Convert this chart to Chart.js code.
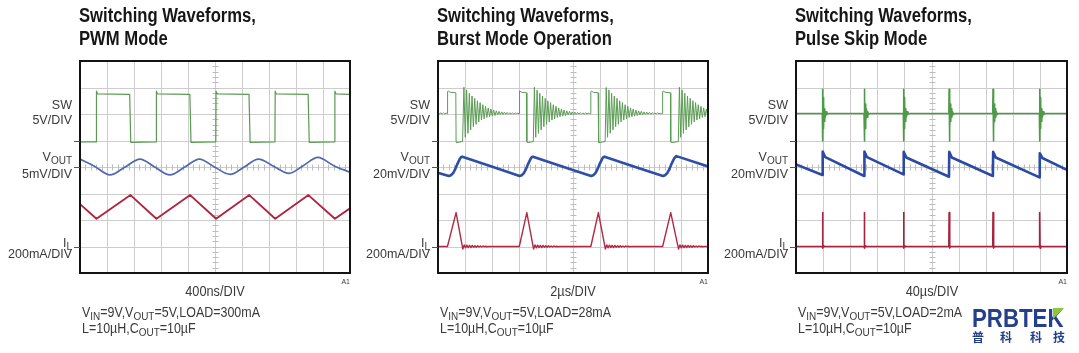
<!DOCTYPE html>
<html><head><meta charset="utf-8">
<script src="https://cdn.jsdelivr.net/npm/chart.js@4.4.1/dist/chart.umd.min.js"></script>
<style>
html,body{margin:0;padding:0;background:#fff;}
#wrap{position:relative;width:1079px;height:353px;overflow:hidden;background:#fff;}
canvas{position:absolute;left:0;top:0;}
.t{position:absolute;white-space:nowrap;line-height:1;}
.title{font-family:"Liberation Sans",Arial,sans-serif;font-weight:bold;color:#161616;}
.lab{font-family:"Liberation Sans",Arial,sans-serif;color:#3a3a3a;}
.sub{position:relative;top:3px;font-size:0.8em;}
.logo{font-family:"Liberation Sans",Arial,sans-serif;font-weight:bold;color:#24408c;}
.cjk{font-family:"Noto Sans CJK SC",sans-serif;font-weight:bold;color:#24408c;}
</style></head><body><div id="wrap"></div>
<script>
// ---------- DATA (x in divisions 0..10, y in divisions 0..8) ----------
const panelTitles = ["Switching Waveforms,", "Switching Waveforms,", "Switching Waveforms,"];
const panelModes = ["PWM Mode", "Burst Mode Operation", "Pulse Skip Mode"];
const timeBases = ["400ns/DIV", "2µs/DIV", "40µs/DIV"];
const voutScales = ["5mV/DIV", "20mV/DIV", "20mV/DIV"];
const loads = ["300mA", "28mA", "2mA"];

// PWM mode
const pwmSW = [[0,4.95],[0.60,4.95],[0.61,6.86],[0.65,6.76],[1.84,6.74],[1.88,4.93],[2.82,4.95],[2.83,6.86],[2.87,6.76],[4.07,6.74],[4.11,4.93],[5.03,4.95],[5.04,6.86],[5.08,6.76],[6.26,6.74],[6.30,4.93],[7.22,4.95],[7.23,6.86],[7.27,6.76],[8.45,6.74],[8.49,4.93],[9.43,4.95],[9.44,6.86],[9.48,6.76],[10,6.74]];
const pwmVOUT = [[0,4.30],[0.55,4.02],[1.11,3.70],[1.67,4.00],[2.22,4.30],[2.77,4.00],[3.33,3.70],[3.88,4.00],[4.42,4.30],[4.98,4.00],[5.56,3.72],[6.08,4.00],[6.61,4.30],[7.18,4.02],[7.74,3.76],[8.28,4.06],[8.81,4.36],[9.40,4.05],[10,3.80]];
const pwmIL = [[0,2.60],[0.61,2.05],[1.87,2.94],[2.83,2.05],[4.08,2.94],[5.04,2.05],[6.27,2.94],[7.23,2.05],[8.46,2.94],[9.44,2.05],[10,2.44]];

// Burst mode
const burstSW = [[0,6.05],[0.05,5.99],[0.10,6.05],[0.15,5.99],[0.20,6.04],[0.25,6.00],[0.30,6.04],[0.34,6.01],
[0.35,6.01],[0.36,6.84],[0.38,6.87],[0.45,6.82],[0.66,6.80],[0.67,4.95],[0.69,4.92],[0.91,4.96],
[0.96,7.01],[1.01,5.12],[1.06,6.91],[1.11,5.27],[1.16,6.78],[1.21,5.40],[1.26,6.68],[1.31,5.52],[1.36,6.59],[1.41,5.61],[1.46,6.50],[1.51,5.70],[1.56,6.43],[1.61,5.77],[1.66,6.35],[1.71,5.82],[1.76,6.29],[1.81,5.87],[1.86,6.23],[1.91,5.90],[1.96,6.19],[2.01,5.92],[2.06,6.15],[2.11,5.94],[2.16,6.12],[2.21,5.96],[2.26,6.10],[2.31,5.97],[2.36,6.08],[2.41,5.98],[2.46,6.07],[2.51,5.99],[2.56,6.06],[2.61,5.99],[2.66,6.05],[2.71,6.00],[2.76,6.04],[2.81,6.00],[2.86,6.04],[2.91,6.01],[2.96,6.03],
[3.00,6.01],[3.01,6.84],[3.03,6.87],[3.10,6.82],[3.28,6.80],[3.29,4.95],[3.31,4.92],[3.53,4.96],
[3.57,7.01],[3.62,5.12],[3.67,6.90],[3.72,5.27],[3.77,6.78],[3.82,5.40],[3.87,6.68],[3.92,5.52],[3.97,6.59],[4.02,5.61],[4.07,6.50],[4.12,5.70],[4.17,6.43],[4.22,5.77],[4.27,6.35],[4.32,5.82],[4.37,6.29],[4.42,5.87],[4.47,6.23],[4.52,5.90],[4.57,6.19],[4.62,5.92],[4.67,6.15],[4.72,5.94],[4.77,6.12],[4.82,5.96],[4.87,6.10],[4.92,5.97],[4.97,6.08],[5.02,5.98],[5.07,6.07],[5.12,5.99],[5.17,6.06],[5.22,5.99],[5.27,6.05],[5.32,6.00],[5.37,6.04],[5.42,6.00],[5.47,6.04],[5.52,6.01],[5.57,6.03],[5.62,6.01],
[5.65,6.01],[5.66,6.84],[5.68,6.87],[5.75,6.82],[5.93,6.80],[5.94,4.95],[5.96,4.92],[6.19,4.96],
[6.23,7.00],[6.28,5.12],[6.33,6.91],[6.38,5.27],[6.43,6.78],[6.48,5.40],[6.53,6.68],[6.58,5.52],[6.63,6.59],[6.68,5.61],[6.73,6.50],[6.78,5.70],[6.83,6.43],[6.88,5.77],[6.93,6.35],[6.98,5.82],[7.03,6.29],[7.08,5.87],[7.13,6.23],[7.18,5.90],[7.23,6.19],[7.28,5.92],[7.33,6.15],[7.38,5.94],[7.43,6.12],[7.48,5.96],[7.53,6.10],[7.58,5.97],[7.63,6.08],[7.68,5.98],[7.73,6.07],[7.78,5.99],[7.83,6.06],[7.88,5.99],[7.93,6.05],[7.98,6.00],[8.03,6.04],[8.08,6.00],[8.13,6.04],[8.18,6.01],[8.23,6.03],[8.28,6.01],
[8.31,6.01],[8.32,6.84],[8.34,6.87],[8.41,6.82],[8.61,6.80],[8.62,4.95],[8.64,4.92],[8.90,4.96],
[8.94,7.01],[8.99,5.12],[9.04,6.91],[9.09,5.27],[9.14,6.78],[9.19,5.40],[9.24,6.68],[9.29,5.52],[9.34,6.59],[9.39,5.61],[9.44,6.50],[9.49,5.70],[9.54,6.43],[9.59,5.77],[9.64,6.35],[9.69,5.82],[9.74,6.29],[9.79,5.87],[9.84,6.23],[9.89,5.90],[9.94,6.19],[9.99,5.92]];
const burstVOUT = [[0,3.78],[0.40,3.66],[0.48,3.69],[0.56,3.77],[0.64,3.92],[0.72,4.12],[0.80,4.29],[0.85,4.37],[0.90,4.39],[1.96,4.03],[3.02,3.66],
[3.10,3.69],[3.18,3.77],[3.26,3.92],[3.34,4.12],[3.42,4.29],[3.47,4.37],[3.52,4.39],[4.60,4.02],[5.67,3.66],
[5.75,3.69],[5.83,3.77],[5.91,3.92],[5.99,4.12],[6.07,4.29],[6.12,4.37],[6.17,4.39],[7.25,4.02],[8.33,3.66],
[8.41,3.69],[8.49,3.77],[8.57,3.92],[8.65,4.12],[8.73,4.29],[8.78,4.37],[8.83,4.41],[10,4.02]];
const burstIL = [[0,1.0],[0.35,1.0],[0.67,2.28],[0.92,0.90],[0.97,1.06],[1.02,0.95],[1.07,1.05],[1.12,0.96],[1.17,1.04],[1.22,0.96],[1.27,1.04],[1.32,0.97],[1.37,1.03],[1.42,0.97],[1.47,1.03],[1.52,0.98],[1.57,1.02],[1.62,0.98],[1.67,1.02],[1.72,0.99],[1.77,1.01],[1.82,0.99],[1.87,1.0],[3.01,1.0],
[3.29,2.28],[3.54,0.90],[3.59,1.06],[3.64,0.95],[3.69,1.05],[3.74,0.96],[3.79,1.04],[3.84,0.96],[3.89,1.04],[3.94,0.97],[3.99,1.03],[4.04,0.97],[4.09,1.03],[4.14,0.98],[4.19,1.02],[4.24,0.98],[4.29,1.02],[4.34,0.99],[4.39,1.01],[4.44,0.99],[4.49,1.0],[5.66,1.0],
[5.94,2.28],[6.20,0.90],[6.25,1.06],[6.30,0.95],[6.35,1.05],[6.40,0.96],[6.45,1.04],[6.50,0.96],[6.55,1.04],[6.60,0.97],[6.65,1.03],[6.70,0.97],[6.75,1.03],[6.80,0.98],[6.85,1.02],[6.90,0.98],[6.95,1.02],[7.00,0.99],[7.05,1.01],[7.10,0.99],[7.15,1.0],[8.32,1.0],
[8.62,2.28],[8.91,0.90],[8.96,1.06],[9.01,0.95],[9.06,1.05],[9.11,0.96],[9.16,1.04],[9.21,0.96],[9.26,1.04],[9.31,0.97],[9.36,1.03],[9.41,0.97],[9.46,1.03],[9.51,0.98],[9.56,1.02],[9.61,0.98],[9.66,1.02],[9.71,0.99],[9.76,1.01],[9.81,0.99],[9.86,1.0],[10,1.0]];

// Pulse skip mode
const skipSW = [[0,6.02],
[0.97,6.02],[0.98,6.93],[0.99,4.98],[1.00,6.62],[1.01,5.45],[1.025,6.38],[1.04,5.72],[1.06,6.20],[1.08,5.88],[1.11,6.08],[1.14,5.98],[1.18,6.02],
[2.51,6.02],[2.52,6.93],[2.53,4.98],[2.54,6.62],[2.55,5.45],[2.565,6.38],[2.58,5.72],[2.60,6.20],[2.62,5.88],[2.65,6.08],[2.68,5.98],[2.72,6.02],
[3.96,6.02],[3.97,6.93],[3.98,4.98],[3.99,6.62],[4.00,5.45],[4.015,6.38],[4.03,5.72],[4.05,6.20],[4.07,5.88],[4.10,6.08],[4.13,5.98],[4.17,6.02],
[5.64,6.02],[5.65,6.93],[5.66,4.98],[5.67,6.62],[5.68,5.45],[5.695,6.38],[5.71,5.72],[5.73,6.20],[5.75,5.88],[5.78,6.08],[5.81,5.98],[5.85,6.02],
[7.26,6.02],[7.27,6.93],[7.28,4.98],[7.29,6.62],[7.30,5.45],[7.315,6.38],[7.33,5.72],[7.35,6.20],[7.37,5.88],[7.40,6.08],[7.43,5.98],[7.47,6.02],
[8.98,6.02],[8.99,6.93],[9.00,4.98],[9.01,6.62],[9.02,5.45],[9.035,6.38],[9.05,5.72],[9.07,6.20],[9.09,5.88],[9.12,6.08],[9.15,5.98],[9.19,6.02],
[10,6.02]];
const skipVOUT = [[0,4.10],[0.975,3.70],[0.985,4.58],[1.08,4.37],[2.515,3.66],[2.525,4.58],[2.62,4.37],[3.965,3.72],[3.975,4.57],[4.07,4.36],[5.645,3.63],[5.655,4.57],[5.75,4.36],[7.265,3.66],[7.275,4.57],[7.37,4.36],[8.985,3.61],[8.995,4.52],[9.09,4.34],[10,3.89]];
const skipIL = [[0,1.0],[0.97,1.0],[0.98,2.28],[0.995,0.94],[1.01,1.03],[1.03,0.99],[1.05,1.0],
[2.51,1.0],[2.52,2.28],[2.535,0.94],[2.55,1.03],[2.57,0.99],[2.59,1.0],
[3.96,1.0],[3.97,2.28],[3.985,0.94],[4.0,1.03],[4.02,0.99],[4.04,1.0],
[5.64,1.0],[5.65,2.28],[5.665,0.94],[5.68,1.03],[5.70,0.99],[5.72,1.0],
[7.26,1.0],[7.27,2.28],[7.285,0.94],[7.30,1.03],[7.32,0.99],[7.34,1.0],
[8.98,1.0],[8.99,2.28],[9.005,0.94],[9.02,1.03],[9.04,0.99],[9.06,1.0],[10,1.0]];

const groundLevels = [5, 4, 1]; // SW, VOUT, IL reference markers (div)

// ---------- LAYOUT ----------
const W = 1079, H = 353;
const frames = [{l:80,r:350,t:61,b:273},{l:438,r:708,t:61,b:273},{l:796,r:1067,t:61,b:273}];
const wrap = document.getElementById('wrap');

const scopePlugin = {
  id:'scope',
  beforeDatasetsDraw(chart){
    const {ctx, chartArea:a, scales:{x,y}} = chart;
    ctx.save();
    ctx.strokeStyle = '#cdcdcd'; ctx.lineWidth = 1;
    ctx.beginPath();
    for (let i=1;i<10;i++){ const px=Math.round(x.getPixelForValue(i))+0.5; ctx.moveTo(px,a.top); ctx.lineTo(px,a.bottom); }
    for (let j=1;j<8;j++){ const py=Math.round(y.getPixelForValue(j))+0.5; ctx.moveTo(a.left,py); ctx.lineTo(a.right,py); }
    ctx.stroke();
    ctx.strokeStyle = '#bdbdbd';
    ctx.beginPath();
    const cx = Math.round(x.getPixelForValue(5))+0.5, cy = Math.round(y.getPixelForValue(4))+0.5;
    for (let k=1;k<40;k++){ const py=Math.round(y.getPixelForValue(k*0.2))+0.5; ctx.moveTo(cx-3,py); ctx.lineTo(cx+3,py); }
    for (let k=1;k<50;k++){ const px=Math.round(x.getPixelForValue(k*0.2))+0.5; ctx.moveTo(px,cy-3); ctx.lineTo(px,cy+3); }
    ctx.stroke();
    ctx.restore();
  },
  afterDatasetsDraw(chart){
    const {ctx, chartArea:a, scales:{y}} = chart;
    ctx.save();
    ctx.strokeStyle = '#141414'; ctx.lineWidth = 2;
    ctx.strokeRect(a.left, a.top, a.right-a.left, a.bottom-a.top);
    ctx.strokeStyle = '#555'; ctx.lineWidth = 1;
    ctx.beginPath();
    for (const g of groundLevels){ const py=Math.round(y.getPixelForValue(g))+0.5; ctx.moveTo(a.left-6,py); ctx.lineTo(a.left,py); }
    ctx.stroke();
    ctx.restore();
  }
};

function pts(arr){ return arr.map(([x,y])=>({x,y})); }
function ds(arr, color, width, mono){
  return {data:pts(arr), borderColor:color, borderWidth:width, pointRadius:0, fill:false,
          tension:0, cubicInterpolationMode: mono ? 'monotone' : 'default', borderJoinStyle:'round'};
}

const panelData = [
  [ds(pwmSW,'#5b9a52',1.2), ds(pwmVOUT,'#5069ad',1.7,true), ds(pwmIL,'#ad2640',1.9)],
  [ds(burstSW,'#5a9c53',1.0), ds(burstVOUT,'#2f4ea6',2.6), ds(burstIL,'#b02a44',1.4)],
  [ds(skipSW,'#4f9a48',1.6), ds(skipVOUT,'#2c4aa4',2.6), ds(skipIL,'#a8213d',1.6)]
];

frames.forEach((f,i)=>{
  const c = document.createElement('canvas');
  c.width = W; c.height = H; c.style.width = W+'px'; c.style.height = H+'px';
  wrap.appendChild(c);
  new Chart(c, {
    type:'line',
    data:{datasets:panelData[i]},
    options:{
      responsive:false, animation:false, events:[], devicePixelRatio:1,
      layout:{padding:{left:f.l, right:W-f.r, top:f.t, bottom:H-f.b}},
      plugins:{legend:{display:false}, tooltip:{enabled:false}, title:{display:false}},
      scales:{ x:{type:'linear',min:0,max:10,display:false}, y:{type:'linear',min:0,max:8,display:false} }
    },
    plugins:[scopePlugin]
  });
});

// ---------- TEXT ----------
function txt(html, cls, x, base, align, size, sx){
  const d = document.createElement('div');
  d.className = 't '+cls; d.innerHTML = html; d.style.fontSize = size+'px';
  d.style.top = (base - 0.8465*size)+'px';
  if (align==='right'){ d.style.right = (W-x)+'px'; d.style.textAlign='right'; d.style.transformOrigin='100% 0'; }
  else if (align==='center'){ d.style.left=(x-150)+'px'; d.style.width='300px'; d.style.textAlign='center'; d.style.transformOrigin='50% 0'; }
  else { d.style.left = x+'px'; d.style.transformOrigin='0 0'; }
  if (sx) d.style.transform = 'scaleX('+sx+')';
  wrap.appendChild(d); return d;
}
// condensed title: scale so that line 1 is ~177px wide, as in the reference
const probe = txt(panelTitles[0],'title',-500,20,'left',20);
const titleSX = 177 / probe.getBoundingClientRect().width;
probe.remove();
frames.forEach((f,i)=>{
  txt(panelTitles[i],'title',f.l-1,21.7,'left',20,titleSX);
  txt(panelModes[i],'title',f.l-1,44.7,'left',20,titleSX);
  const rx = f.l-8;
  txt('SW','lab',rx,109.5,'right',12.5);
  txt('5V/DIV','lab',rx,125,'right',12.5);
  txt('V<span class="sub">OUT</span>','lab',rx,161.5,'right',12.5);
  txt(voutScales[i],'lab',rx,178.5,'right',12.5);
  txt('I<span class="sub">L</span>','lab',rx,248,'right',12.5);
  txt('200mA/DIV','lab',rx,258.5,'right',12.5);
  txt(timeBases[i],'lab',(f.l+f.r)/2,296,'center',14,0.91);
  txt('A1','lab',f.r,284,'right',7);
  txt('V<span class="sub">IN</span>=9V,V<span class="sub">OUT</span>=5V,LOAD='+loads[i],'lab',f.l+2,316.7,'left',14,0.89);
  txt('L=10µH,C<span class="sub">OUT</span>=10µF','lab',f.l+2,332.7,'left',14,0.89);
});
// logo
txt('PRBTEK','logo',972,326.7,'left',25,0.89);
const tri = document.createElement('div');
tri.style.cssText='position:absolute;left:1053px;top:308px;width:0;height:0;border-top:11px solid #8cc63f;border-right:11px solid transparent;';
wrap.appendChild(tri);
[['普',972],['科',1000],['科',1030],['技',1053]].forEach(([ch,x])=>txt(ch,'cjk',x,341,'left',12));
</script>
</body></html>
